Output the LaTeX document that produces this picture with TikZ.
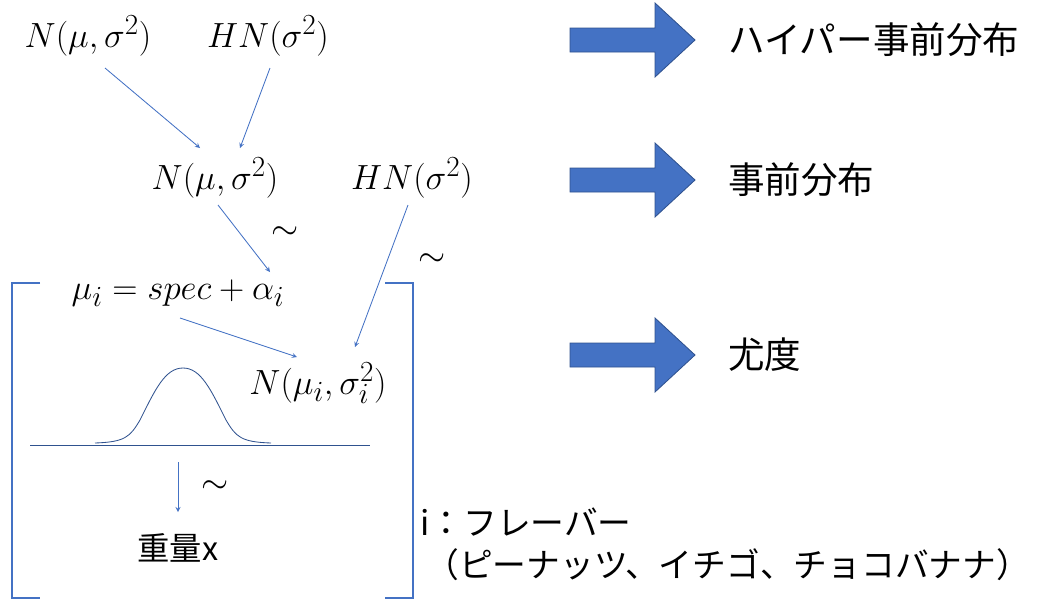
\documentclass[tikz,border=0pt]{standalone}
\usepackage{fontspec}
\newfontfamily\jp{Noto Sans CJK JP}
\definecolor{blueline}{HTML}{4472C4}
\definecolor{blueedge}{HTML}{2F528F}
\tikzset{
  mathnode/.style = {inner sep=0pt, font=\fontsize{28}{32}\selectfont},
  jpnode/.style = {inner sep=0pt, font=\jp\fontsize{26}{30}\selectfont},
  link/.style = {->, >=stealth, draw=blueline, line width=0.6pt},
  bigarrow/.style = {fill=blueline, draw=blueedge, line width=0.6pt},
}
\newcommand{\blockarrow}[1]{%
  \draw [bigarrow] (570,#1-12) -- (655,#1-12) -- (655,#1-37) -- (695,#1)
    -- (655,#1+37) -- (655,#1+12) -- (570,#1+12) -- cycle;}
\begin{document}
\begin{tikzpicture}[x=0.025cm, y=-0.025cm]
  \useasboundingbox (0,0) rectangle (1052,606);
  % hierarchy of distributions
  \node [mathnode] (hypmu) at (88,36) {$N(\mu,\sigma^2)$};
  \node [mathnode] (hypsig) at (268,36) {$HN(\sigma^2)$};
  \node [mathnode] (prmu) at (215,178) {$N(\mu,\sigma^2)$};
  \node [mathnode] (prsig) at (412,178) {$HN(\sigma^2)$};
  \node [mathnode] (mean) at (178,293) {$\mu_i = spec + \alpha_i$};
  \node [mathnode] (lik) at (318,383) {$N(\mu_i,\sigma_i^2)$};
  \node [jpnode, font=\jp\fontsize{23}{27}\selectfont] (weight) at (178,548) {重量x};
  \node [mathnode] (t1) at (285,233) {$\sim$};
  \node [mathnode] (t2) at (432,260) {$\sim$};
  \node [mathnode] (t3) at (215,487) {$\sim$};
  \draw [link] (105,68) -- (200,148);
  \draw [link] (270,68) -- (240,148);
  \draw [link] (218,205) -- (270,272);
  \draw [link] (408,205) -- (355,347);
  \draw [link] (180,318) -- (297,357);
  \draw [link] (178,462) -- (178,512);
  % density curve
  \draw [blueedge, line width=0.6pt] (30,445) -- (370,445);
  \draw [blueedge, line width=0.6pt] (95,443) .. controls (125,442) and (130,437) .. (140,420)
    .. controls (155,390) and (165,368) .. (183,368)
    .. controls (201,368) and (211,390) .. (226,420)
    .. controls (236,437) and (241,442) .. (271,443);
  % plate brackets
  \draw [blueline, line width=0.8pt] (40,283) -- (12,283) -- (12,598) -- (40,598);
  \draw [blueline, line width=0.8pt] (385,283) -- (413,283) -- (413,598) -- (385,598);
  \node [jpnode, anchor=west, font=\jp\fontsize{24}{28}\selectfont] (idx) at (420,522) {i：フレーバー};
  \node [jpnode, anchor=west, font=\jp\fontsize{24}{28}\selectfont] (flav) at (425,565) {（ピーナッツ、イチゴ、チョコバナナ）};
  % legend
  \blockarrow{40}
  \blockarrow{180}
  \blockarrow{355}
  \node [jpnode, anchor=west] (l1) at (728,40) {ハイパー事前分布};
  \node [jpnode, anchor=west] (l2) at (728,180) {事前分布};
  \node [jpnode, anchor=west] (l3) at (728,355) {尤度};
\end{tikzpicture}
\end{document}
